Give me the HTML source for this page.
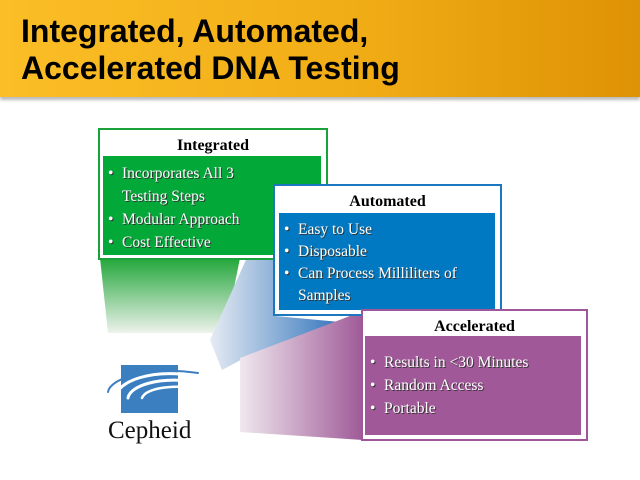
<!DOCTYPE html>
<html><head><style>
body{margin:0;width:640px;height:480px;background:#fff;position:relative;overflow:hidden;font-family:"Liberation Serif",serif}
.hdr{position:absolute;left:0;top:0;width:640px;height:97px;background:linear-gradient(90deg,#fbbe26,#f1ad16 55%,#de9205);box-shadow:0 3px 3px #bbb}
.hdr div{position:absolute;left:21px;top:13px;font:bold 32px/37px "Liberation Sans",sans-serif;color:#000}
.box{position:absolute;background:#fff;border:2px solid}
.box h{display:block;text-align:center;font-weight:bold;font-size:16px;margin-top:7px}
.in{position:absolute;color:#fff;font-size:15.5px;line-height:23px;text-shadow:1px 1px 0 #333}
.in p{margin:0;padding-left:19px;position:relative}
.in p:before{content:"•";position:absolute;left:5px}
</style></head><body>
<div class="hdr"><div>Integrated, Automated,<br>Accelerated DNA Testing</div></div>
<svg width="640" height="480" style="position:absolute;left:0;top:0">
<defs>
<linearGradient id="g" x1="0" y1="0" x2="0" y2="1"><stop offset="0" stop-color="#22a63a"/><stop offset="1" stop-color="#eef2ec"/></linearGradient>
<linearGradient id="b" x1="1" y1="0" x2="0" y2="0"><stop offset="0" stop-color="#3476bd"/><stop offset="1" stop-color="#e6ebf3"/></linearGradient>
<linearGradient id="p" x1="1" y1="0" x2="0" y2="0"><stop offset="0" stop-color="#9f5a98"/><stop offset="1" stop-color="#f0e8ee"/></linearGradient>
</defs>
<polygon points="100,258 240,258 225,333 108,333" fill="url(#g)"/>
<polygon points="275,195 275,316 340,322 250,355 222,370 210,340" fill="url(#b)"/>
<polygon points="363,311 363,440 240,432 240,358" fill="url(#p)"/>
<rect x="121" y="365" width="57" height="48" fill="#3b7fc0"/>
<g fill="none" stroke-linecap="round">
<path d="M198,373 C150,366 110,378 108,392" stroke="#3b7fc0" stroke-width="2"/>
<path d="M196,376 C150,368 118,382 116,396" stroke="#fff" stroke-width="3"/>
<path d="M196,382 C158,376 130,386 128,398" stroke="#fff" stroke-width="3"/>
<path d="M196,388 C165,384 145,390 142,398" stroke="#fff" stroke-width="2.5"/>
</g>
<text x="108" y="438" font-family="Liberation Serif,serif" font-size="25" fill="#111">Cepheid</text>
</svg>
<div class="box" style="left:98px;top:128px;width:226px;height:128px;border-color:#1aa13a"><h>Integrated</h></div>
<div class="in" style="left:103px;top:156px;width:218px;height:99px;background:#02a838;padding-top:6px;box-sizing:border-box"><p>Incorporates All 3<br>Testing Steps</p><p>Modular Approach</p><p>Cost Effective</p></div>
<div class="box" style="left:273px;top:184px;width:225px;height:128px;border-color:#1a77c0"><h>Automated</h></div>
<div class="in" style="left:279px;top:213px;width:216px;height:97px;background:#0179c2;padding-top:6px;box-sizing:border-box;line-height:22px"><p>Easy to Use</p><p>Disposable</p><p>Can Process Milliliters of<br>Samples</p></div>
<div class="box" style="left:361px;top:309px;width:223px;height:128px;border-color:#a0579a"><h>Accelerated</h></div>
<div class="in" style="left:365px;top:336px;width:216px;height:99px;background:#a05898;padding-top:15px;box-sizing:border-box"><p>Results in &lt;30 Minutes</p><p>Random Access</p><p>Portable</p></div>
</body></html>
